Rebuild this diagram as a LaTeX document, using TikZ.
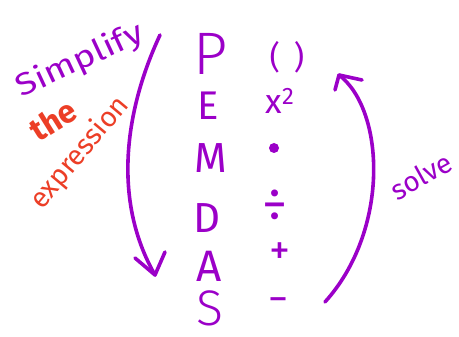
\documentclass[tikz,border=0pt]{standalone}
\usepackage{fontspec}
\setmainfont{Fira Sans}
\newfontfamily\lightfont{Fira Sans Light}
\definecolor{hpurple}{RGB}{155,0,200}
\definecolor{hred}{RGB}{236,62,38}
\begin{document}
\begin{tikzpicture}[x=1pt,y=-1pt,
  ink/.style={draw=hpurple,line width=3.6pt,line cap=round,line join=round},
  letter/.style={text=hpurple,inner sep=0pt,anchor=center},
  redtxt/.style={text=hred,inner sep=0pt,anchor=center}]
\useasboundingbox (0,0) rectangle (459,337);
% PEMDAS column
\node[letter,font=\lightfont\fontsize{60}{60}\selectfont] (P) at (211,54) {P};
\node[letter,font=\fontsize{40}{40}\selectfont] (E) at (208,106) {E};
\node[letter,font=\fontsize{42}{42}\selectfont] (M) at (211,158) {M};
\node[letter,font=\fontsize{42}{42}\selectfont] (D) at (207,218) {D};
\node[letter,font=\fontsize{44}{44}\selectfont] (A) at (209,266) {A};
\node[letter,font=\lightfont\fontsize{50}{50}\selectfont] (S) at (210,308) {S};
% operation symbols
\node[letter,font=\fontsize{32}{32}\selectfont] (par) at (287,57) {(\hspace{14pt})};
\node[letter,font=\fontsize{34}{34}\selectfont] (exp) at (280,101) {x\textsuperscript{2}};
\node[circle,fill=hpurple,inner sep=0pt,minimum size=10pt] (dot) at (274,148) {};
\node[letter,font=\fontsize{50}{50}\selectfont] (div) at (275,206) {÷};
\node[letter,font=\fontsize{42}{42}\selectfont] (plus) at (280,254) {+};
\node[letter,font=\fontsize{40}{40}\selectfont] (minus) at (278,305) {−};
% side texts
\node[letter,rotate=25,font=\fontsize{31}{31}\selectfont,xscale=1.2] (simp) at (80,61) {Simplify};
\node[redtxt,rotate=32,font=\fontsize{32}{32}\selectfont\bfseries] (the) at (53,120) {the};
\node[redtxt,rotate=50,font=\fontsize{28}{28}\selectfont] (expr) at (80,153) {expression};
\node[letter,rotate=29,font=\fontsize{28}{28}\selectfont] (solve) at (421,176) {solve};
% left arrow (simplify, downward)
\coordinate (lstart) at (160,35);
\coordinate (ltip) at (155,275);
\coordinate (lh1) at (135,258);
\coordinate (lh2) at (165,252);
\draw[ink] (lstart) .. controls (125,110) and (112,200) .. (ltip);
\draw[ink] (lh1) -- (ltip) -- (lh2);
% right arrow (solve, upward)
\coordinate (rstart) at (325,302);
\coordinate (rtip) at (339,75);
\coordinate (rh1) at (335,90);
\coordinate (rh2) at (362,80);
\draw[ink] (rstart) .. controls (390,230) and (385,110) .. (rtip);
\draw[ink] (rh1) -- (rtip) -- (rh2);
\end{tikzpicture}
\end{document}
